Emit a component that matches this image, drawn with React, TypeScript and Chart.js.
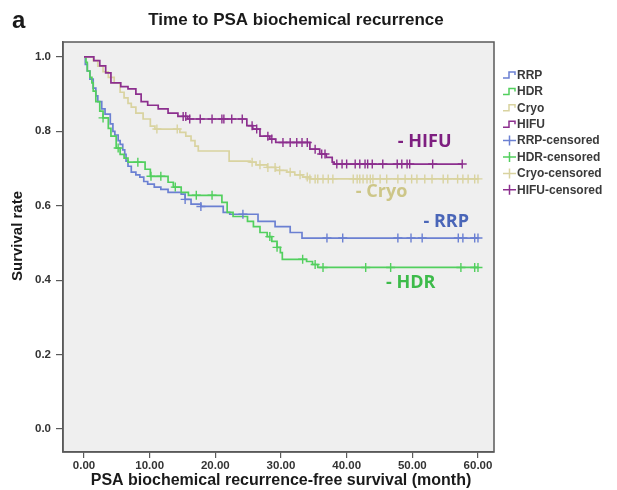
import React, { useEffect, useRef } from "react";
import { Chart, registerables } from "chart.js";

Chart.register(...registerables);

// ---- Data (months, survival rate) ----
const rrpTimes = [0, 0.2, 0.5, 0.9, 1.4, 1.8, 2.1, 2.7, 3.2, 4.0, 4.4, 4.7, 5.2, 5.5, 5.9, 6.2, 6.4, 6.7, 7.2, 7.9, 8.5, 9.1, 9.7, 10.7, 11.7, 12.8, 14.8, 15.4, 16.3, 17.8, 21.2, 22.2, 26.5, 29.1, 31.4, 33.2, 60];
const rrpSurv = [1.0, 0.98, 0.962, 0.94, 0.916, 0.895, 0.88, 0.86, 0.846, 0.82, 0.8, 0.79, 0.775, 0.765, 0.75, 0.738, 0.72, 0.706, 0.69, 0.683, 0.677, 0.665, 0.658, 0.65, 0.644, 0.636, 0.631, 0.617, 0.604, 0.598, 0.582, 0.577, 0.558, 0.544, 0.528, 0.513, 0.513];

const hdrTimes = [0, 0.3, 0.5, 0.9, 1.2, 1.4, 1.8, 2.4, 2.9, 3.7, 4.1, 4.9, 5.5, 6.1, 6.7, 9.3, 10.1, 12.8, 13.6, 14.8, 15.9, 21.0, 21.8, 22.7, 24.9, 25.8, 26.8, 27.9, 28.6, 29.4, 29.9, 30.2, 33.9, 34.8, 35.6, 60];
const hdrSurv = [1.0, 0.985, 0.962, 0.945, 0.93, 0.908, 0.88, 0.854, 0.836, 0.808, 0.787, 0.755, 0.738, 0.728, 0.717, 0.698, 0.679, 0.663, 0.65, 0.636, 0.628, 0.609, 0.582, 0.571, 0.558, 0.544, 0.528, 0.517, 0.504, 0.488, 0.474, 0.456, 0.45, 0.442, 0.434, 0.434];

const cryoTimes = [0, 1.4, 2.1, 2.9, 3.7, 4.6, 5.5, 6.1, 6.7, 7.2, 7.9, 9.0, 10.1, 10.8, 14.6, 15.5, 16.3, 16.9, 17.4, 22.1, 25.3, 26.2, 27.9, 29.2, 30.9, 32.1, 33.3, 34.4, 60];
const cryoSurv = [1.0, 0.99, 0.975, 0.96, 0.945, 0.93, 0.905, 0.89, 0.875, 0.865, 0.849, 0.833, 0.814, 0.806, 0.797, 0.787, 0.775, 0.76, 0.747, 0.72, 0.717, 0.71, 0.703, 0.695, 0.69, 0.683, 0.677, 0.672, 0.672];

const hifuTimes = [0, 1.5, 2.4, 3.3, 4.1, 5.6, 6.7, 7.9, 8.7, 9.7, 11.3, 12.8, 14.3, 15.8, 24.8, 25.7, 26.8, 28.3, 29.2, 34.4, 35.9, 36.9, 37.8, 38.1, 57.6];
const hifuSurv = [1.0, 0.99, 0.976, 0.957, 0.93, 0.92, 0.914, 0.9, 0.88, 0.87, 0.86, 0.849, 0.84, 0.833, 0.815, 0.806, 0.787, 0.779, 0.77, 0.752, 0.739, 0.73, 0.717, 0.712, 0.712];

// censored observation times (months)
const rrpCensored = [15.4, 17.8, 24.2, 37.0, 39.4, 47.8, 49.8, 51.5, 57.0, 57.7, 59.5, 60.0];
const hdrCensored = [2.9, 5.2, 8.2, 10.2, 11.7, 13.9, 17.1, 19.5, 28.3, 29.4, 33.3, 35.2, 36.4, 42.9, 46.7, 57.4, 59.5, 60.0];
const cryoCensored = [11.1, 14.2, 25.6, 26.8, 28.0, 29.1, 29.8, 31.4, 32.9, 34.0, 34.4, 35.2, 35.6, 36.4, 37.2, 37.9, 41.0, 41.6, 42.0, 42.5, 43.1, 43.6, 44.0, 45.1, 46.1, 47.8, 48.9, 49.9, 50.7, 51.9, 53.0, 54.7, 55.4, 56.9, 57.7, 58.5, 59.5, 60.0];
const hifuCensored = [15.1, 15.5, 16.1, 17.7, 19.5, 21.0, 21.3, 22.5, 24.1, 25.6, 26.3, 28.0, 28.6, 30.3, 31.4, 32.4, 33.2, 34.0, 35.2, 36.2, 36.7, 38.5, 39.3, 40.0, 41.3, 42.0, 42.8, 43.2, 43.9, 45.5, 47.7, 48.4, 49.2, 49.6, 53.1, 57.6];

const xTicks = [0, 10, 20, 30, 40, 50, 60];
const yTicks = [0, 0.2, 0.4, 0.6, 0.8, 1.0];

const legendLabels = ["RRP", "HDR", "Cryo", "HIFU", "RRP-censored", "HDR-censored", "Cryo-censored", "HIFU-censored"];

const annotLabels = ["- HIFU", "- Cryo", "- RRP", "- HDR"];
const annotX = [47.8, 41.4, 51.7, 46.0];
const annotY = [0.772, 0.636, 0.556, 0.392];

// ---- styles ----
const COL_RRP = "#6b80d2";
const COL_HDR = "#52cf5e";
const COL_CRYO = "#d9d3a0";
const COL_HIFU = "#8c2f8e";
const lineColors = [COL_RRP, COL_HDR, COL_CRYO, COL_HIFU];
const annotColors = ["#7e1f80", "#cdc688", "#4a66b8", "#3dbb4a"];

function toPoints(ts: number[], ss: number[]) {
  return ts.map((t, i) => ({ x: t, y: ss[i] }));
}
function stepValue(ts: number[], ss: number[], t: number) {
  let v = ss[0];
  for (let i = 0; i < ts.length; i++) {
    if (ts[i] <= t) v = ss[i];
  }
  return v;
}
function censPoints(c: number[], ts: number[], ss: number[]) {
  return c.map((t) => ({ x: t, y: stepValue(ts, ss, t) }));
}

const FONT = "'Liberation Sans', Arial, sans-serif";

const decorPlugin = {
  id: "decor",
  beforeDraw(chart: any) {
    const { ctx, chartArea } = chart;
    ctx.save();
    ctx.fillStyle = "#ffffff";
    ctx.fillRect(0, 0, chart.width, chart.height);
    ctx.fillStyle = "#efefef";
    ctx.fillRect(chartArea.left, chartArea.top, chartArea.right - chartArea.left, chartArea.bottom - chartArea.top);
    ctx.restore();
  },
  afterDraw(chart: any) {
    const { ctx, chartArea, scales } = chart;
    ctx.save();
    // frame
    ctx.strokeStyle = "#5a5a5a";
    ctx.lineWidth = 1.5;
    ctx.strokeRect(chartArea.left, chartArea.top, chartArea.right - chartArea.left, chartArea.bottom - chartArea.top);

    // title
    ctx.fillStyle = "#1a1a1a";
    ctx.textBaseline = "middle";
    ctx.textAlign = "center";
    ctx.font = `bold 17px ${FONT}`;
    ctx.fillText("Time to PSA biochemical recurrence", 296, 20);
    ctx.textAlign = "left";
    ctx.font = `bold 24px ${FONT}`;
    ctx.fillText("a", 12, 21);

    // axis titles
    ctx.textAlign = "center";
    ctx.font = `bold 16px ${FONT}`;
    ctx.fillText("PSA biochemical recurrence-free survival (month)", 281, 481);
    ctx.save();
    ctx.translate(18, 236);
    ctx.rotate(-Math.PI / 2);
    ctx.font = `bold 15px ${FONT}`;
    ctx.fillText("Survival rate", 0, 0);
    ctx.restore();

    // annotations
    ctx.textAlign = "left";
    ctx.font = `bold 18px 'Open Sans', Lato, sans-serif`;
    annotLabels.forEach((lab, i) => {
      ctx.fillStyle = annotColors[i];
      ctx.fillText(lab, scales.x.getPixelForValue(annotX[i]), scales.y.getPixelForValue(annotY[i]));
    });

    // legend
    const lx = 503;
    let ly = 75;
    const dy = 16.4;
    ctx.font = `bold 12px ${FONT}`;
    legendLabels.forEach((lab, i) => {
      const c = lineColors[i % 4];
      ctx.strokeStyle = c;
      ctx.lineWidth = 1.5;
      ctx.beginPath();
      if (i < 4) {
        ctx.moveTo(lx, ly + 3);
        ctx.lineTo(lx + 6, ly + 3);
        ctx.lineTo(lx + 6, ly - 3);
        ctx.lineTo(lx + 12, ly - 3);
        ctx.lineTo(lx + 12, ly);
      } else {
        ctx.moveTo(lx, ly);
        ctx.lineTo(lx + 13, ly);
        ctx.moveTo(lx + 6.5, ly - 5);
        ctx.lineTo(lx + 6.5, ly + 5);
      }
      ctx.stroke();
      ctx.fillStyle = "#3a3a3a";
      ctx.fillText(lab, lx + 14, ly + 0.5);
      ly += dy;
    });
    ctx.restore();
  },
};

export default function App() {
  const ref = useRef<HTMLCanvasElement | null>(null);
  useEffect(() => {
    if (!ref.current) return;
    const curves = [
      [rrpTimes, rrpSurv],
      [hdrTimes, hdrSurv],
      [cryoTimes, cryoSurv],
      [hifuTimes, hifuSurv],
    ];
    const cens = [rrpCensored, hdrCensored, cryoCensored, hifuCensored];
    const names = ["RRP", "HDR", "Cryo", "HIFU"];
    const datasets: any[] = [];
    [3, 2, 1, 0].forEach((i) => {
      datasets.push({
        label: names[i] + "-censored",
        data: censPoints(cens[i], curves[i][0], curves[i][1]),
        showLine: false,
        pointStyle: "cross",
        pointRadius: 4.5,
        pointBorderWidth: 1.4,
        borderColor: lineColors[i],
        backgroundColor: lineColors[i],
      });
    });
    [3, 2, 1, 0].forEach((i) => {
      datasets.push({
        label: names[i],
        data: toPoints(curves[i][0], curves[i][1]),
        stepped: "before",
        borderColor: lineColors[i],
        borderWidth: 1.7,
        pointRadius: 0,
        fill: false,
      });
    });

    const chart = new Chart(ref.current, {
      type: "line",
      data: { datasets },
      options: {
        animation: false,
        responsive: false,
        devicePixelRatio: 1,
        layout: { padding: { left: 0, top: 42, right: 123, bottom: 0 } },
        plugins: { legend: { display: false }, tooltip: { enabled: false } },
        scales: {
          x: {
            type: "linear",
            min: -3.2,
            max: 62.44,
            afterBuildTicks: (s: any) => {
              s.ticks = xTicks.map((v) => ({ value: v }));
            },
            afterFit: (s: any) => {
              s.height = 38;
            },
            grid: { drawOnChartArea: false, drawTicks: true, tickLength: 6, color: "#5a5a5a", lineWidth: 1.2 },
            border: { display: true, color: "#5a5a5a", width: 1.5 },
            ticks: {
              color: "#333333",
              font: { family: FONT, size: 11.5, weight: "bold" },
              padding: 1,
              maxRotation: 0,
              callback: (v: any) => Number(v).toFixed(2),
            },
          },
          y: {
            type: "linear",
            min: -0.062,
            max: 1.04,
            afterBuildTicks: (s: any) => {
              s.ticks = yTicks.map((v) => ({ value: v }));
            },
            afterFit: (s: any) => {
              s.width = 63;
            },
            grid: { drawOnChartArea: false, drawTicks: true, tickLength: 7, color: "#5a5a5a", lineWidth: 1.2 },
            border: { display: true, color: "#5a5a5a", width: 1.5 },
            ticks: {
              color: "#333333",
              font: { family: FONT, size: 11.5, weight: "bold" },
              padding: 5,
              callback: (v: any) => Number(v).toFixed(1),
            },
          },
        },
      } as any,
      plugins: [decorPlugin],
    });
    return () => chart.destroy();
  }, []);
  return (
    <div style={{ position: "fixed", left: 0, top: 0, width: 617, height: 490, background: "#fff" }}>
      <canvas ref={ref} width={617} height={490} style={{ display: "block", width: 617, height: 490 }} />
    </div>
  );
}
